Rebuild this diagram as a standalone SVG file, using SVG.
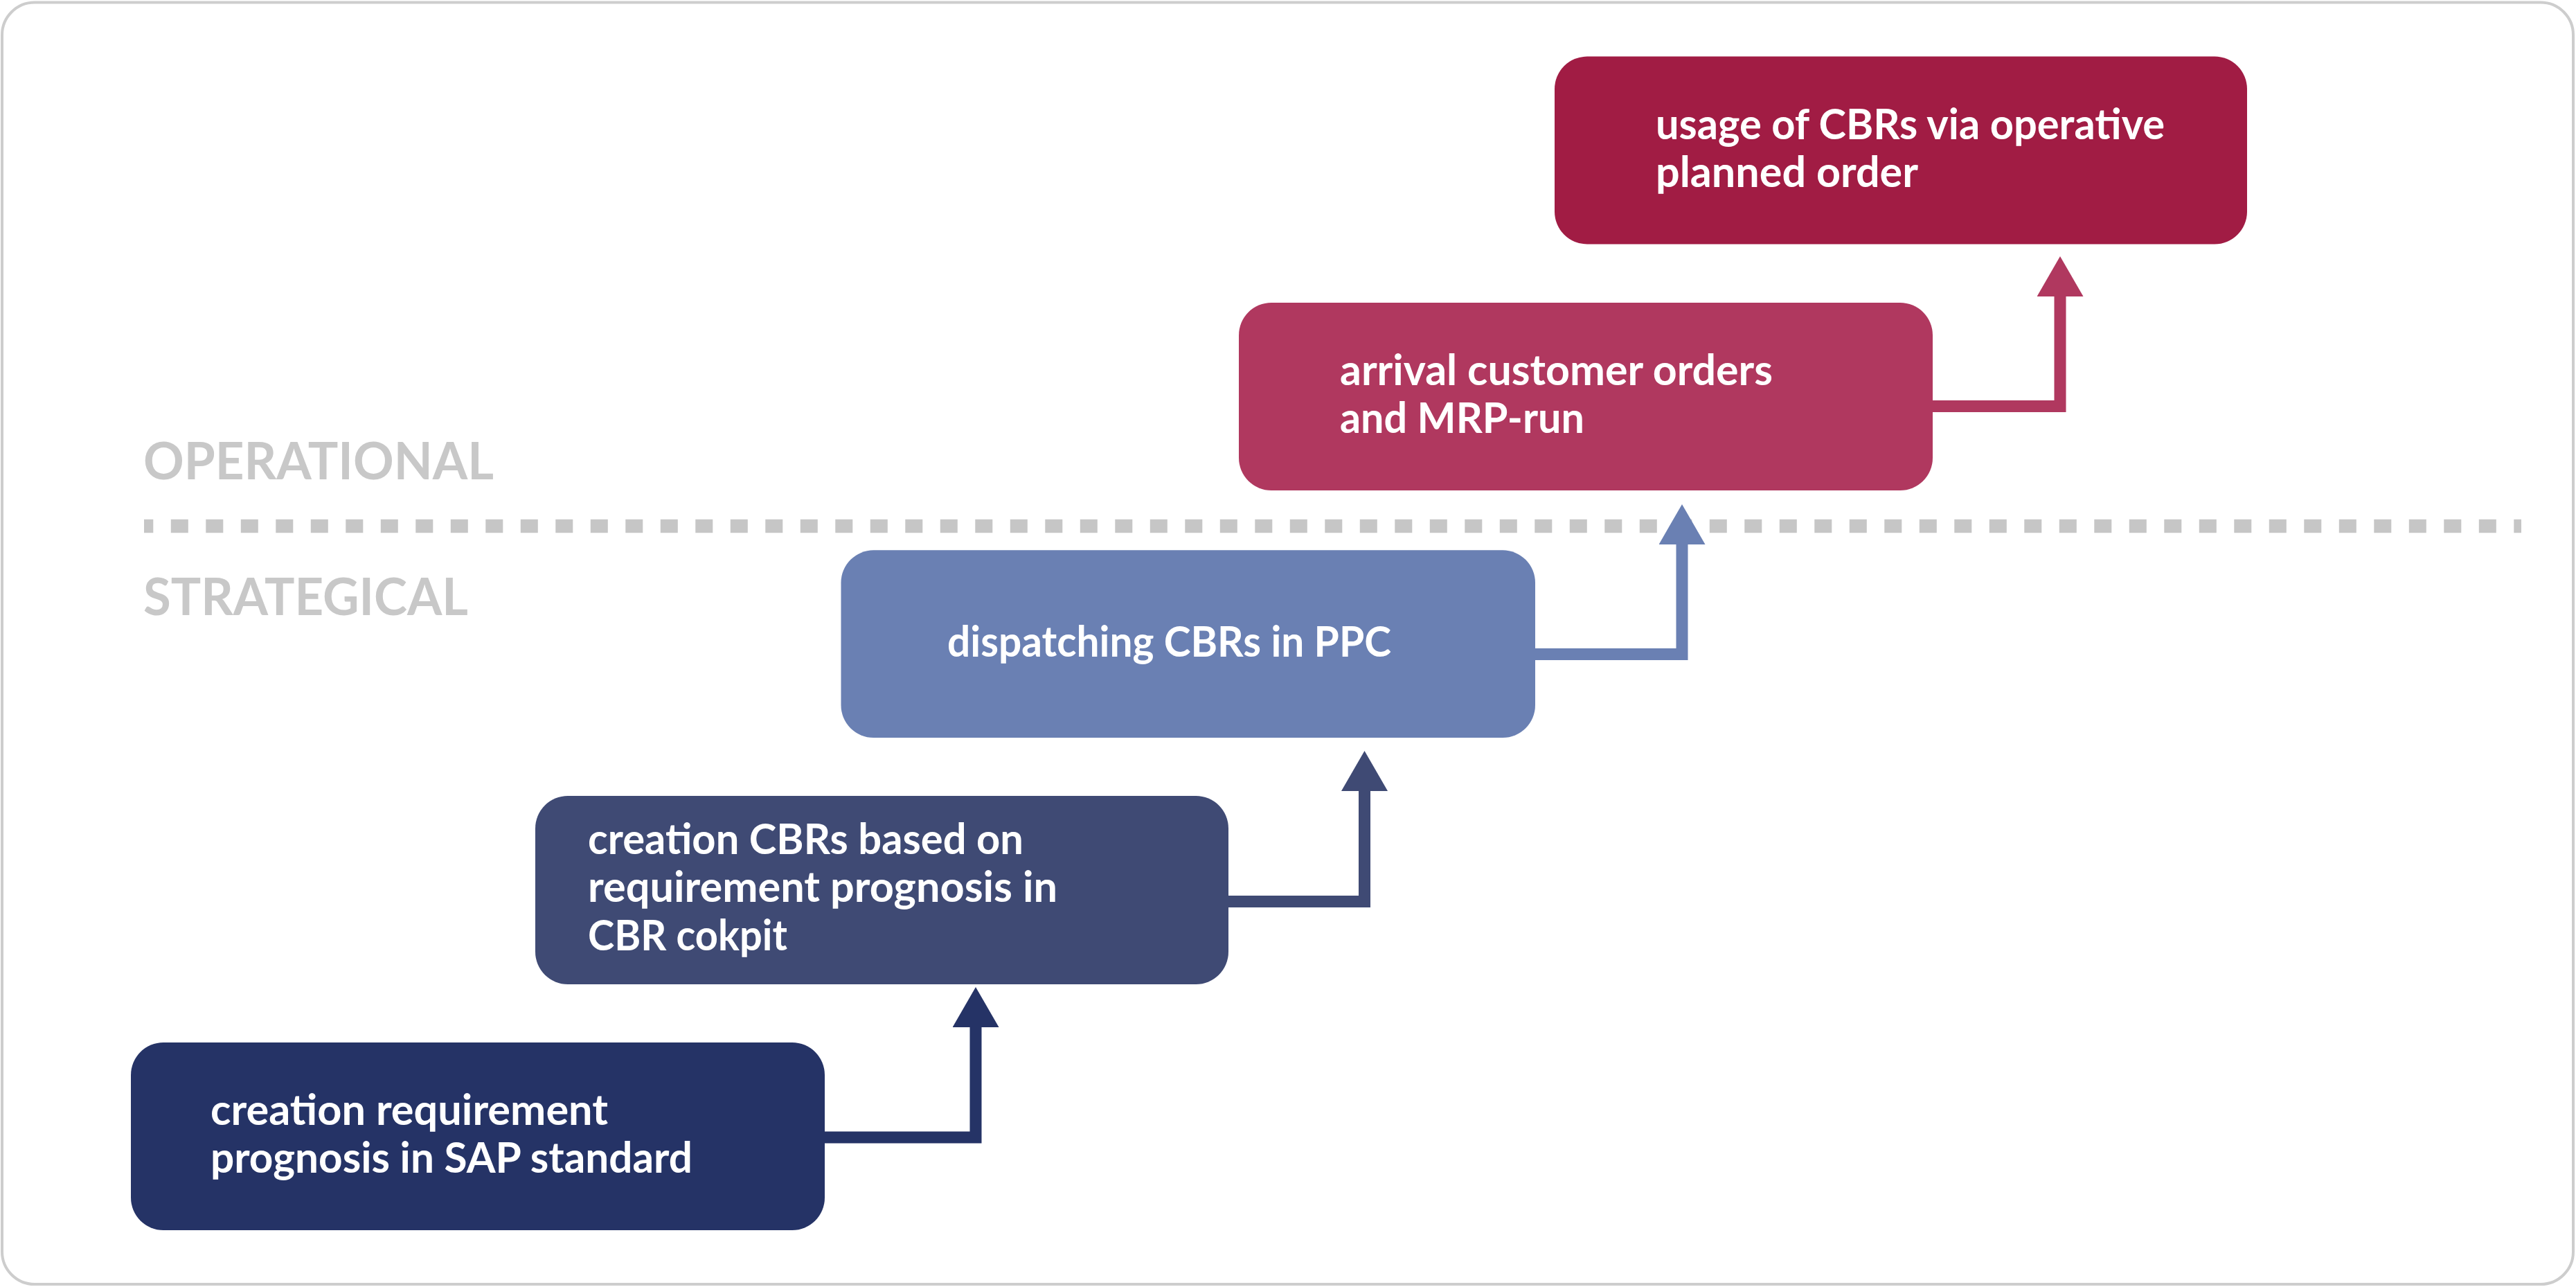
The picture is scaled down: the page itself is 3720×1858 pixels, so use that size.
<svg xmlns="http://www.w3.org/2000/svg" width="3720" height="1858" viewBox="0 0 3720 1858">
  <style>
    .lbl { font-family: Lato, "Open Sans", "Liberation Sans", sans-serif; font-weight: 700; font-size: 61px; fill: #ffffff; }
    .lvl { font-family: Lato, "Open Sans", "Liberation Sans", sans-serif; font-weight: 700; font-size: 74px; fill: #c8c8c8; }
    .conn { fill: none; stroke-width: 17; stroke-linejoin: miter; stroke-linecap: butt; }
  </style>
  <defs>
    <marker id="h1" viewBox="0 0 58 67" markerUnits="userSpaceOnUse" markerWidth="58" markerHeight="67" refX="0" refY="33.5" orient="auto"><polygon points="0,0 58,33.5 0,67" fill="#253366"/></marker>
    <marker id="h2" viewBox="0 0 58 67" markerUnits="userSpaceOnUse" markerWidth="58" markerHeight="67" refX="0" refY="33.5" orient="auto"><polygon points="0,0 58,33.5 0,67" fill="#3f4a74"/></marker>
    <marker id="h3" viewBox="0 0 58 67" markerUnits="userSpaceOnUse" markerWidth="58" markerHeight="67" refX="0" refY="33.5" orient="auto"><polygon points="0,0 58,33.5 0,67" fill="#6a80b3"/></marker>
    <marker id="h4" viewBox="0 0 58 67" markerUnits="userSpaceOnUse" markerWidth="58" markerHeight="67" refX="0" refY="33.5" orient="auto"><polygon points="0,0 58,33.5 0,67" fill="#b0385f"/></marker>
  </defs>

  <rect id="frame" x="3" y="3.5" width="3713" height="1850.5" rx="47" ry="47" fill="#ffffff" stroke="#cdcdcd" stroke-width="4"/>

  <g id="levels">
    <text class="lvl" x="207" y="692" textLength="506" lengthAdjust="spacingAndGlyphs">OPERATIONAL</text>
    <line x1="208" y1="759.5" x2="3641" y2="759.5" stroke="#c6c6c6" stroke-width="19.5" stroke-dasharray="25 25.5" stroke-dashoffset="11.7"/>
    <text class="lvl" x="207" y="888" textLength="469" lengthAdjust="spacingAndGlyphs">STRATEGICAL</text>
  </g>

  <g id="connectors">
    <polyline class="conn" stroke="#253366" points="1188,1642 1409,1642 1409,1483" marker-end="url(#h1)"/>
    <polyline class="conn" stroke="#3f4a74" points="1771,1301.5 1970.5,1301.5 1970.5,1142" marker-end="url(#h2)"/>
    <polyline class="conn" stroke="#6a80b3" points="2214,944.5 2429,944.5 2429,786" marker-end="url(#h3)"/>
    <polyline class="conn" stroke="#b0385f" points="2788,586.5 2975,586.5 2975,428" marker-end="url(#h4)"/>
  </g>

  <g id="node1">
    <rect x="189" y="1505" width="1002" height="271" rx="47" ry="47" fill="#253366"/>
    <text class="lbl" x="304" y="1624" textLength="574" lengthAdjust="spacingAndGlyphs">creation requirement</text>
    <text class="lbl" x="304" y="1693" textLength="696" lengthAdjust="spacingAndGlyphs">prognosis in SAP standard</text>
  </g>

  <g id="node2">
    <rect x="773" y="1149" width="1001" height="272" rx="47" ry="47" fill="#3f4a74"/>
    <text class="lbl" x="849" y="1233" textLength="629" lengthAdjust="spacingAndGlyphs">creation CBRs based on</text>
    <text class="lbl" x="849" y="1302" textLength="678" lengthAdjust="spacingAndGlyphs">requirement prognosis in</text>
    <text class="lbl" x="849" y="1372" textLength="288" lengthAdjust="spacingAndGlyphs">CBR cokpit</text>
  </g>

  <g id="node3">
    <rect x="1214.5" y="794.3" width="1002.5" height="270.7" rx="47" ry="47" fill="#6a80b3"/>
    <text class="lbl" x="1368" y="948" textLength="641" lengthAdjust="spacingAndGlyphs">dispatching CBRs in PPC</text>
  </g>

  <g id="node4">
    <rect x="1789" y="437" width="1002" height="271" rx="47" ry="47" fill="#b0385f"/>
    <text class="lbl" x="1935" y="556" textLength="625" lengthAdjust="spacingAndGlyphs">arrival customer orders</text>
    <text class="lbl" x="1935" y="625" textLength="353" lengthAdjust="spacingAndGlyphs">and MRP-run</text>
  </g>

  <g id="node5">
    <rect x="2245" y="81.5" width="1000" height="271" rx="47" ry="47" fill="#a11c44"/>
    <text class="lbl" x="2391" y="201" textLength="735" lengthAdjust="spacingAndGlyphs">usage of CBRs via operative</text>
    <text class="lbl" x="2391" y="270" textLength="379" lengthAdjust="spacingAndGlyphs">planned order</text>
  </g>
</svg>
